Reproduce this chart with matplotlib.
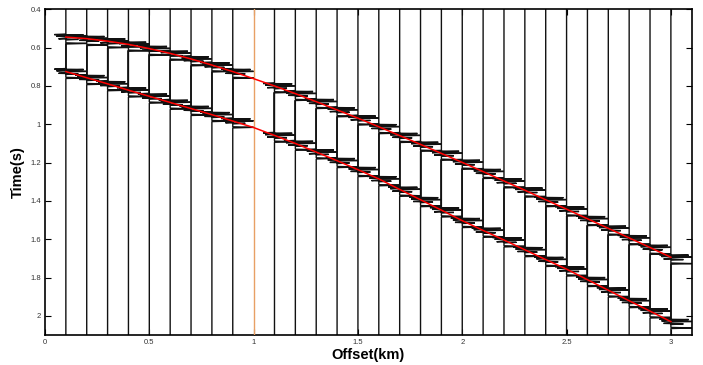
import matplotlib
matplotlib.use("Agg")
import matplotlib.pyplot as plt
from matplotlib.ticker import FuncFormatter

plt.rcParams['font.family'] = ['Liberation Sans', 'DejaVu Sans']

# ---------------- data ----------------
offsets = [0.1, 0.2, 0.3, 0.4, 0.5, 0.6, 0.7, 0.8, 0.9, 1.0,
           1.1, 1.2, 1.3, 1.4, 1.5, 1.6, 1.7, 1.8, 1.9, 2.0,
           2.1, 2.2, 2.3, 2.4, 2.5, 2.6, 2.7, 2.8, 2.9, 3.0]

# picked travel times (s) of the two reflections (red curves)
event1_times = [0.545, 0.553, 0.566, 0.583, 0.605, 0.630, 0.659, 0.691, 0.725, 0.762,
                0.800, 0.840, 0.882, 0.925, 0.968, 1.013, 1.059, 1.105, 1.152, 1.199,
                1.247, 1.296, 1.344, 1.394, 1.443, 1.493, 1.543, 1.593, 1.643, 1.694]
event2_times = [0.725, 0.757, 0.789, 0.822, 0.854, 0.886, 0.918, 0.950, 0.983, 1.017,
                1.058, 1.100, 1.145, 1.190, 1.237, 1.285, 1.340, 1.394, 1.448, 1.503,
                1.554, 1.604, 1.655, 1.706, 1.756, 1.811, 1.866, 1.921, 1.975, 2.030]

dead_trace = 1.0   # trace shown as orange line, no wavelets

# wavelet samples (relative time in s, horizontal deflection in km)
wavelet_tau = [-0.016, -0.013, -0.011, -0.008, -0.004, -0.001, 0.002, 0.005,
               0.009, 0.012, 0.015, 0.030, 0.033, 0.036]
wavelet_amp = [0.0, -0.055, 0.085, 0.0, -0.045, 0.10, 0.0, 0.0,
               -0.035, 0.06, 0.0, 0.0, 0.10, 0.0]

xticks = [0, 0.5, 1, 1.5, 2, 2.5, 3]
yticks = [0.4, 0.6, 0.8, 1.0, 1.2, 1.4, 1.6, 1.8, 2.0]
t_min, t_max = 0.4, 2.1
x_max = 3.1

# ---------------- figure ----------------
fig = plt.figure(figsize=(7.03, 3.65), dpi=100)
ax = fig.add_axes([0.064, 0.082, 0.920, 0.8925])

for i, x0 in enumerate(offsets):
    if abs(x0 - dead_trace) < 1e-9:
        ax.plot([x0, x0], [t_min, t_max], color='#e8a065', lw=1.0, zorder=3)
        continue
    ts = [t_min]
    xs = [x0]
    for tev in (event1_times[i], event2_times[i]):
        for tau, a in zip(wavelet_tau, wavelet_amp):
            ts.append(tev + tau)
            xs.append(x0 + a)
    ts.append(t_max)
    xs.append(x0)
    ax.plot(xs, ts, color='#111111', lw=1.0, zorder=2, solid_joinstyle='miter')
    # darker trace segment between the two arrivals
    ax.plot([x0, x0], [event1_times[i] + wavelet_tau[-1], event2_times[i] + wavelet_tau[0]],
            color='#111111', lw=1.2, zorder=2)

ax.plot(offsets, event1_times, color='red', lw=1.1, zorder=4)
ax.plot(offsets, event2_times, color='red', lw=1.1, zorder=4)

ax.set_xlim(0, x_max)
ax.set_ylim(t_max, t_min)
ax.set_xticks(xticks)
ax.set_yticks(yticks)
fmt = FuncFormatter(lambda v, p: ('%g' % round(v, 2)))
ax.xaxis.set_major_formatter(fmt)
ax.yaxis.set_major_formatter(fmt)
ax.tick_params(direction='in', length=4, width=0.8, labelsize=5.5,
               top=True, right=True, pad=3, labelcolor='#333333')
for s in ax.spines.values():
    s.set_linewidth(1.2)

ax.set_xlabel('Offset(km)', fontsize=10.5, fontweight='bold', labelpad=1)
ax.set_ylabel('Time(s)', fontsize=10.5, fontweight='bold', labelpad=4)

fig.savefig('out.png', dpi=100)
